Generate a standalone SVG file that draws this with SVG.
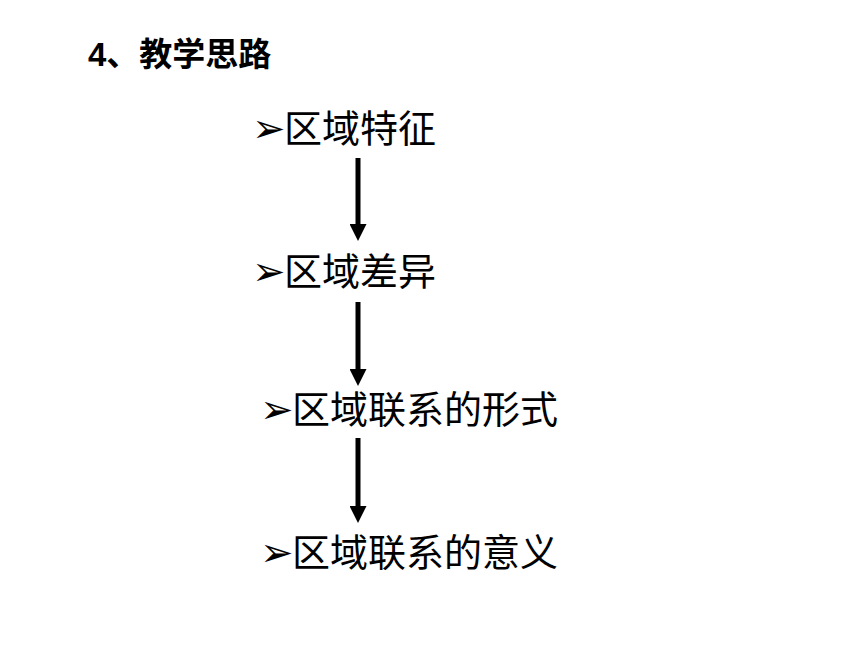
<svg xmlns="http://www.w3.org/2000/svg" width="860" height="645" viewBox="0 0 860 645">
<style>
.t{font-family:"Liberation Sans","Noto Sans CJK SC",sans-serif;fill:#000}
.title{font-size:33px;font-weight:bold}
.item{font-size:38px}
.b{font-family:"DejaVu Sans",sans-serif;font-size:40px;fill:#000}
.c{stroke:#000;stroke-width:5;fill:none;marker-end:url(#ah)}
</style>
<defs>
<marker id="ah" markerUnits="userSpaceOnUse" markerWidth="17" markerHeight="17" viewBox="0 0 17 17" refX="0" refY="8.5" orient="auto">
<path d="M0,0 L17,8.5 L0,17 Z" fill="#000"/>
</marker>
</defs>
<rect width="860" height="645" fill="#fff"/>
<g id="title"><text class="t title" x="88" y="66">4、教学思路</text></g>
<g id="n1"><text class="b" x="252" y="142">➢</text><text class="t item" x="284" y="142">区域特征</text></g>
<g id="n2"><text class="b" x="252" y="285">➢</text><text class="t item" x="284" y="285">区域差异</text></g>
<g id="n3"><text class="b" x="260" y="423">➢</text><text class="t item" x="292" y="423">区域联系的形式</text></g>
<g id="n4"><text class="b" x="260" y="566">➢</text><text class="t item" x="292" y="566">区域联系的意义</text></g>
<g id="connectors">
<line class="c" x1="358" y1="158" x2="358" y2="224"/>
<line class="c" x1="358" y1="302" x2="358" y2="369"/>
<line class="c" x1="358" y1="438" x2="358" y2="506"/>
</g>
</svg>
